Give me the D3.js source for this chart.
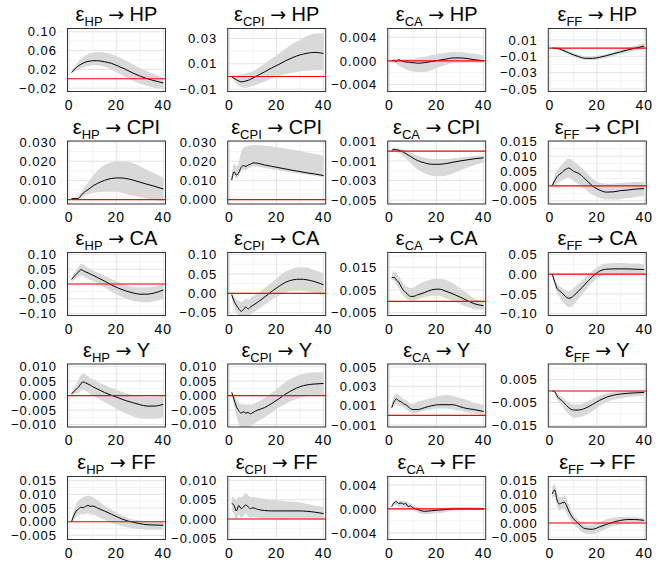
<!DOCTYPE html>
<html>
<head>
<meta charset="utf-8">
<script src="https://cdn.jsdelivr.net/npm/d3@7"></script>
<style>
  body { margin: 0; background: #fff; }
  svg { display: block; }
</style>
</head>
<body>
<div id="chart"></div>
<script>
// Impulse responses: shock (column) -> response (row), horizons 1..40
const horizons = [1, 2, 3, 4, 5, 6, 7, 8, 9, 10, 12, 15, 18, 21, 24, 27, 30, 33, 36, 40];
const shocks = ['HP', 'CPI', 'CA', 'FF'];
const responses = ['HP', 'CPI', 'CA', 'Y', 'FF'];

// response HP
const hpHP = {
    mid: [0.0138, 0.0187, 0.0236, 0.0279, 0.0307, 0.0335, 0.0356, 0.037, 0.0378, 0.0385, 0.0385, 0.0363, 0.0328, 0.0265, 0.020, 0.0124, 0.006, 0.0004, -0.0039, -0.0088],
    lo:  [0.011, 0.014, 0.017, 0.020, 0.022, 0.024, 0.026, 0.027, 0.028, 0.029, 0.029, 0.026, 0.020, 0.012, 0.004, -0.004, -0.010, -0.015, -0.019, -0.021],
    hi:  [0.017, 0.024, 0.031, 0.037, 0.042, 0.046, 0.050, 0.053, 0.055, 0.056, 0.057, 0.056, 0.052, 0.046, 0.039, 0.031, 0.023, 0.016, 0.010, 0.003]
};
const cpiHP = {
    mid: [0.0000, -0.0015, -0.0025, -0.0035, -0.0042, -0.0040, -0.0035, -0.0030, -0.0022, -0.0012, 0.0008, 0.0037, 0.0068, 0.0095, 0.0125, 0.0150, 0.0170, 0.0183, 0.0190, 0.0182],
    lo:  [-0.0003, -0.0030, -0.0055, -0.0075, -0.0085, -0.0088, -0.0088, -0.0085, -0.0080, -0.0075, -0.0060, -0.0040, -0.0015, 0.0005, 0.0020, 0.0030, 0.0040, 0.0045, 0.0050, 0.0050],
    hi:  [0.0003, 0.0008, 0.0008, 0.0010, 0.0013, 0.0018, 0.0024, 0.0029, 0.0034, 0.0042, 0.0063, 0.0102, 0.0141, 0.0180, 0.0220, 0.0259, 0.0290, 0.0319, 0.0337, 0.0342]
};
const caHP = {
    mid: [0.0000, 0.0001, -0.0001, 0.0002, 0.0000, -0.0001, -0.0002, -0.0002, -0.0003, -0.0003, -0.0004, -0.0003, -0.0001, 0.0001, 0.0003, 0.0005, 0.0005, 0.0004, 0.0002, 0.0000],
    lo:  [-0.0001, -0.0003, -0.0005, -0.0008, -0.0010, -0.0012, -0.0014, -0.0016, -0.0017, -0.0018, -0.0019, -0.0019, -0.0016, -0.0011, -0.0007, -0.0004, -0.0003, -0.0003, -0.0003, -0.0004],
    hi:  [0.0001, 0.0003, 0.0003, 0.0004, 0.0003, 0.0003, 0.0003, 0.0003, 0.0003, 0.0003, 0.0005, 0.0007, 0.0010, 0.0012, 0.0014, 0.0015, 0.0015, 0.0014, 0.0012, 0.0009]
};
const ffHP = {
    mid: [0.0000, -0.0001, -0.0003, -0.0010, -0.0020, -0.0032, -0.0045, -0.0058, -0.0070, -0.0082, -0.0102, -0.0124, -0.0125, -0.0112, -0.0092, -0.0068, -0.0045, -0.0022, -0.0002, 0.0025],
    lo:  [-0.0002, -0.0008, -0.0015, -0.0025, -0.0038, -0.0052, -0.0066, -0.0080, -0.0092, -0.0104, -0.0125, -0.0146, -0.0147, -0.0135, -0.0117, -0.0095, -0.0075, -0.0052, -0.0032, -0.0005],
    hi:  [0.0002, 0.0005, 0.0008, 0.0005, -0.0003, -0.0012, -0.0024, -0.0036, -0.0047, -0.0058, -0.0078, -0.0098, -0.0100, -0.0088, -0.0068, -0.0043, -0.0018, 0.0008, 0.0030, 0.0062]
};

// response CPI
const hpCPI = {
    mid: [0.0005, 0.0005, 0.0005, 0.0006, 0.0020, 0.0034, 0.0043, 0.0052, 0.0061, 0.0070, 0.0084, 0.0100, 0.0110, 0.0113, 0.0110, 0.0102, 0.0091, 0.0080, 0.0070, 0.0055],
    lo:  [-0.0002, -0.0002, -0.0002, 0.0005, 0.0010, 0.0016, 0.0022, 0.0027, 0.0031, 0.0034, 0.0038, 0.0041, 0.0041, 0.0040, 0.0030, 0.0021, 0.0013, 0.0005, -0.0002, -0.0010],
    hi:  [0.0009, 0.0010, 0.0012, 0.0020, 0.0037, 0.0055, 0.0072, 0.0088, 0.0106, 0.0123, 0.0150, 0.0180, 0.0195, 0.0200, 0.0198, 0.0190, 0.0173, 0.0155, 0.0138, 0.0114]
};
const cpiCPI = {
    mid: [0.0102, 0.0145, 0.0127, 0.0141, 0.0168, 0.0177, 0.0173, 0.0180, 0.0184, 0.0191, 0.0189, 0.0180, 0.0173, 0.0166, 0.0159, 0.0152, 0.0146, 0.0139, 0.0134, 0.0125],
    lo:  [0.0090, 0.0125, 0.0110, 0.0122, 0.0148, 0.0158, 0.0155, 0.0162, 0.0166, 0.0172, 0.0171, 0.0164, 0.0158, 0.0152, 0.0146, 0.0140, 0.0135, 0.0129, 0.0124, 0.0116],
    hi:  [0.0123, 0.0186, 0.0173, 0.0195, 0.0248, 0.0270, 0.0275, 0.0280, 0.0281, 0.0284, 0.0284, 0.0280, 0.0277, 0.0271, 0.0266, 0.0259, 0.0254, 0.0245, 0.0238, 0.0227]
};
const caCPI = {
    mid: [0.00005, 0.0002, 0.00016, 0.0001, 0.0000, -0.0001, -0.00025, -0.0004, -0.00055, -0.0007, -0.00096, -0.0012, -0.00134, -0.00134, -0.00127, -0.00113, -0.0010, -0.00089, -0.00078, -0.00068],
    lo:  [-0.00005, 0.00002, -0.00005, -0.00019, -0.00033, -0.00054, -0.00075, -0.00099, -0.0012, -0.00144, -0.00186, -0.00228, -0.0025, -0.00256, -0.0025, -0.00228, -0.00197, -0.00169, -0.00144, -0.00117],
    hi:  [0.00016, 0.0003, 0.0003, 0.00027, 0.00023, 0.00016, 0.00005, -0.00005, -0.00015, -0.00026, -0.00047, -0.00068, -0.0008, -0.0008, -0.0008, -0.00073, -0.00064, -0.00057, -0.0005, -0.00047]
};
const ffCPI = {
    mid: [0.0002, 0.0017, 0.0031, 0.0038, 0.0044, 0.0052, 0.0057, 0.0060, 0.0055, 0.0049, 0.0043, 0.0023, 0.0000, -0.0014, -0.0021, -0.0020, -0.0016, -0.0014, -0.0011, -0.0009],
    lo:  [-0.0002, 0.0000, 0.0009, 0.0014, 0.0018, 0.0023, 0.0026, 0.0028, 0.0023, 0.0017, 0.0006, -0.0011, -0.0029, -0.0040, -0.0046, -0.0046, -0.0044, -0.0041, -0.0038, -0.0034],
    hi:  [0.0009, 0.0034, 0.0052, 0.0063, 0.0071, 0.0080, 0.0089, 0.0092, 0.0090, 0.0083, 0.0071, 0.0048, 0.0025, 0.0011, 0.0007, 0.0008, 0.0010, 0.0011, 0.0013, 0.0012]
};

// response CA
const hpCA = {
    mid: [0.0156, 0.0246, 0.0335, 0.041, 0.049, 0.045, 0.041, 0.038, 0.0335, 0.030, 0.022, 0.010, -0.0034, -0.0145, -0.0235, -0.030, -0.0346, -0.0346, -0.031, -0.020],
    lo:  [0.0078, 0.013, 0.019, 0.0246, 0.030, 0.026, 0.022, 0.018, 0.0134, 0.010, 0.0022, -0.011, -0.0257, -0.039, -0.049, -0.057, -0.0615, -0.0626, -0.059, -0.051],
    hi:  [0.022, 0.034, 0.047, 0.058, 0.069, 0.067, 0.060, 0.055, 0.050, 0.047, 0.039, 0.028, 0.0168, 0.0056, -0.0034, -0.009, -0.012, -0.012, -0.009, 0.000]
};
const cpiCA = {
    mid: [-0.0034, -0.020, -0.031, -0.040, -0.046, -0.0415, -0.035, -0.040, -0.035, -0.031, -0.023, -0.0093, 0.005, 0.0178, 0.0288, 0.0347, 0.0364, 0.0347, 0.0305, 0.022],
    lo:  [-0.0076, -0.035, -0.048, -0.060, -0.066, -0.066, -0.063, -0.062, -0.054, -0.050, -0.0415, -0.029, -0.016, -0.006, 0.0025, 0.0068, 0.0068, 0.005, 0.0008, -0.006],
    hi:  [0.000, -0.0093, -0.016, -0.020, -0.023, -0.020, -0.014, -0.016, -0.012, -0.0076, -0.0008, 0.0136, 0.028, 0.043, 0.056, 0.064, 0.067, 0.066, 0.060, 0.0517]
};
const caCA = {
    mid: [0.0104, 0.0106, 0.0094, 0.0084, 0.0065, 0.0048, 0.0039, 0.0029, 0.0022, 0.0022, 0.0029, 0.0039, 0.0051, 0.0054, 0.0045, 0.0033, 0.0019, 0.0004, -0.0010, -0.0019],
    lo:  [0.0094, 0.0091, 0.0072, 0.0058, 0.0039, 0.0025, 0.0014, 0.0007, 0.0004, 0.0004, 0.0010, 0.0019, 0.0025, 0.0025, 0.0014, 0.0003, -0.0010, -0.0025, -0.0033, -0.0036],
    hi:  [0.0120, 0.0133, 0.0126, 0.0109, 0.0094, 0.0080, 0.0068, 0.0062, 0.0058, 0.0060, 0.0072, 0.0087, 0.0097, 0.0100, 0.0094, 0.0080, 0.0058, 0.0036, 0.0014, 0.0000]
};
const ffCA = {
    mid: [0.000, -0.019, -0.036, -0.042, -0.047, -0.053, -0.059, -0.061, -0.060, -0.055, -0.044, -0.025, -0.0067, 0.0075, 0.0126, 0.0134, 0.0134, 0.0134, 0.0126, 0.0117],
    lo:  [-0.0017, -0.0277, -0.0486, -0.057, -0.065, -0.074, -0.080, -0.084, -0.084, -0.078, -0.064, -0.042, -0.022, -0.0067, -0.0008, 0.000, 0.000, -0.0008, -0.0008, -0.0025],
    hi:  [0.0017, -0.011, -0.0235, -0.030, -0.034, -0.0385, -0.042, -0.043, -0.040, -0.036, -0.025, -0.0084, 0.0084, 0.021, 0.027, 0.0285, 0.0285, 0.028, 0.027, 0.025]
};

// response Y
const hpY = {
    mid: [0.0007, 0.0014, 0.0022, 0.0029, 0.0042, 0.0047, 0.0044, 0.0040, 0.0036, 0.0031, 0.0023, 0.0011, 0.0001, -0.0008, -0.0017, -0.0024, -0.0031, -0.0036, -0.0036, -0.0030],
    lo:  [0.0001, 0.0003, 0.0007, 0.0009, 0.0018, 0.0020, 0.0017, 0.0011, 0.0006, 0.0001, -0.0008, -0.0022, -0.0036, -0.0050, -0.0061, -0.0071, -0.0078, -0.0080, -0.0080, -0.0074],
    hi:  [0.0011, 0.0026, 0.0040, 0.0056, 0.0070, 0.0076, 0.0072, 0.0067, 0.0061, 0.0057, 0.0048, 0.0037, 0.0026, 0.0017, 0.0009, 0.0002, -0.0002, -0.0004, -0.0004, 0.0000]
};
const cpiY = {
    mid: [0.0011, -0.0013, -0.0038, -0.0052, -0.0060, -0.0056, -0.0060, -0.0058, -0.0063, -0.0058, -0.0050, -0.0041, -0.0027, -0.0011, 0.0006, 0.0020, 0.0031, 0.0037, 0.0040, 0.0042],
    lo:  [0.0003, -0.0033, -0.0069, -0.0097, -0.0113, -0.0111, -0.0111, -0.0108, -0.0104, -0.0100, -0.0089, -0.0074, -0.0058, -0.0041, -0.0027, -0.0016, -0.0008, -0.0002, 0.0000, 0.0001],
    hi:  [0.0018, 0.0003, -0.0013, -0.0024, -0.0030, -0.0030, -0.0031, -0.0030, -0.0031, -0.0029, -0.0022, -0.0008, 0.0009, 0.0029, 0.0048, 0.0062, 0.0072, 0.0078, 0.0081, 0.0081]
};
const caY = {
    mid: [0.0008, 0.0014, 0.0017, 0.0015, 0.0014, 0.0012, 0.0011, 0.0009, 0.0007, 0.0006, 0.0006, 0.0008, 0.0010, 0.0011, 0.0011, 0.0011, 0.0009, 0.0007, 0.0006, 0.0004],
    lo:  [0.0006, 0.0010, 0.0012, 0.0010, 0.0009, 0.0008, 0.0006, 0.0005, 0.0003, 0.0002, 0.0003, 0.0005, 0.0006, 0.0007, 0.0007, 0.0006, 0.0005, 0.0003, 0.0002, 0.0001],
    hi:  [0.0013, 0.0020, 0.0022, 0.0021, 0.0019, 0.0017, 0.0016, 0.0014, 0.0012, 0.0012, 0.0014, 0.0016, 0.0018, 0.0020, 0.0021, 0.0020, 0.0018, 0.0016, 0.0013, 0.0011]
};
const ffY = {
    mid: [0.0000, -0.0003, -0.0021, -0.0034, -0.0041, -0.0052, -0.0063, -0.0073, -0.0080, -0.0083, -0.0083, -0.0075, -0.0059, -0.0041, -0.0027, -0.0018, -0.0013, -0.0010, -0.0008, -0.0006],
    lo:  [0.0000, -0.0010, -0.0035, -0.0052, -0.0063, -0.0077, -0.0092, -0.0101, -0.0111, -0.0117, -0.0115, -0.0106, -0.0087, -0.0066, -0.0049, -0.0038, -0.0031, -0.0027, -0.0024, -0.0021],
    hi:  [0.0000, -0.0001, -0.0010, -0.0020, -0.0027, -0.0034, -0.0042, -0.0049, -0.0055, -0.0059, -0.0059, -0.0049, -0.0035, -0.0021, -0.0010, -0.0004, -0.0001, 0.0000, 0.0000, 0.0001]
};

// response FF
const hpFF = {
    mid: [0.0000, 0.0023, 0.0039, 0.0047, 0.0053, 0.0051, 0.0056, 0.0059, 0.0056, 0.0057, 0.0050, 0.0039, 0.0027, 0.0015, 0.0005, -0.0002, -0.0007, -0.0011, -0.0012, -0.0013],
    lo:  [-0.0007, 0.0005, 0.0017, 0.0023, 0.0029, 0.0027, 0.0029, 0.0032, 0.0027, 0.0027, 0.0019, 0.0007, -0.0005, -0.0013, -0.0019, -0.0024, -0.0027, -0.0029, -0.0029, -0.0029],
    hi:  [0.0005, 0.0041, 0.0065, 0.0078, 0.0084, 0.0090, 0.0093, 0.0096, 0.0093, 0.0090, 0.0078, 0.0059, 0.0044, 0.0029, 0.0017, 0.0008, 0.0005, 0.0001, 0.0000, 0.0000]
};
const cpiFF = {
    mid: [0.0041, 0.0035, 0.0021, 0.0035, 0.0027, 0.0031, 0.0037, 0.0031, 0.0027, 0.0029, 0.0025, 0.0022, 0.0021, 0.0021, 0.0021, 0.0021, 0.0021, 0.0020, 0.0018, 0.0014],
    lo:  [0.0022, 0.0012, -0.0003, 0.0012, 0.0003, 0.0009, 0.0015, 0.0007, 0.0003, 0.0005, 0.0003, 0.0001, 0.0000, -0.0002, -0.0002, -0.0001, -0.0001, -0.0002, -0.0002, -0.0003],
    hi:  [0.0057, 0.0055, 0.0050, 0.0058, 0.0057, 0.0061, 0.0067, 0.0061, 0.0057, 0.0057, 0.0055, 0.0052, 0.0050, 0.0048, 0.0046, 0.0045, 0.0042, 0.0039, 0.0035, 0.0031]
};
const caFF = {
    mid: [0.0004, 0.0010, 0.0012, 0.0009, 0.0010, 0.0008, 0.0009, 0.0004, 0.0005, 0.0002, -0.0001, -0.0004, -0.0003, -0.0002, -0.0001, 0.0000, 0.0000, 0.0000, 0.0000, 0.0000],
    lo:  [0.0002, 0.0006, 0.0006, 0.0003, 0.0004, 0.0002, 0.0003, 0.0000, 0.0001, -0.0002, -0.0006, -0.0009, -0.0008, -0.0007, -0.0005, -0.0003, -0.0002, -0.0002, -0.0002, -0.0002],
    hi:  [0.0007, 0.0014, 0.0015, 0.0013, 0.0014, 0.0013, 0.0013, 0.0010, 0.0009, 0.0006, 0.0003, 0.0001, 0.0001, 0.0002, 0.0002, 0.0003, 0.0003, 0.0003, 0.0003, 0.0002]
};
const ffFF = {
    mid: [0.0102, 0.0116, 0.0081, 0.0067, 0.0070, 0.0073, 0.0062, 0.0042, 0.0027, 0.0015, -0.0002, -0.0020, -0.0022, -0.0014, -0.0005, 0.0003, 0.0009, 0.0012, 0.0012, 0.0009],
    lo:  [0.0085, 0.0093, 0.0058, 0.0044, 0.0047, 0.0050, 0.0035, 0.0019, 0.0003, -0.0005, -0.0020, -0.0037, -0.0040, -0.0031, -0.0020, -0.0010, -0.0005, -0.0002, -0.0002, -0.0002],
    hi:  [0.0126, 0.0137, 0.0108, 0.0091, 0.0091, 0.0097, 0.0085, 0.0062, 0.0044, 0.0030, 0.0012, -0.0005, -0.0006, 0.0003, 0.0013, 0.0019, 0.0021, 0.0021, 0.0020, 0.0017]
};

// y-axis tick labels per panel (rows = responses, cols = shocks)
const yTicks = [
    [[-0.02, 0.02, 0.06, 0.10], [-0.01, 0.01, 0.03], [-0.004, 0, 0.004], [-0.05, -0.03, -0.01, 0.01]],
    [[0, 0.01, 0.02, 0.03], [0, 0.01, 0.02, 0.03], [-0.005, -0.003, -0.001, 0.001], [-0.005, 0, 0.005, 0.01, 0.015]],
    [[-0.1, -0.05, 0, 0.05, 0.1], [-0.05, 0, 0.05, 0.1], [-0.005, 0.005, 0.015], [-0.1, -0.05, 0, 0.05]],
    [[-0.01, -0.005, 0, 0.005, 0.01], [-0.01, -0.005, 0, 0.005, 0.01], [-0.001, 0.001, 0.003, 0.005], [-0.015, -0.005, 0.005]],
    [[-0.005, 0, 0.005, 0.01, 0.015], [-0.005, 0, 0.005, 0.01], [-0.004, 0, 0.004], [-0.005, 0, 0.005, 0.01, 0.015]]
];
const yDigits = [[2, 2, 3, 2], [3, 3, 3, 3], [2, 2, 3, 2], [3, 3, 3, 3], [3, 3, 3, 3]];
const yLimits = [
    [[-0.027, 0.107], [-0.0118, 0.0378], [-0.0052, 0.0055], [-0.053, 0.024]],
    [[-0.0023, 0.0305], [-0.0023, 0.0305], [-0.0054, 0.00104], [-0.0061, 0.0151]],
    [[-0.107, 0.107], [-0.057, 0.105], [-0.0062, 0.0215], [-0.105, 0.055]],
    [[-0.0108, 0.0109], [-0.0108, 0.0109], [-0.0012, 0.0053], [-0.0157, 0.0118]],
    [[-0.0065, 0.0165], [-0.0053, 0.011], [-0.0051, 0.0054], [-0.0058, 0.0163]]
];
const xTicks = [0, 20, 40];
const xMinor = [10, 30];
const xLimits = [-0.7, 40.9];

const irfGrid = [
    [hpHP, cpiHP, caHP, ffHP],
    [hpCPI, cpiCPI, caCPI, ffCPI],
    [hpCA, cpiCA, caCA, ffCA],
    [hpY, cpiY, caY, ffY],
    [hpFF, cpiFF, caFF, ffFF]
];

// Layout
const width = 667, height = 565;
const panelW = 98, panelH = 63;
const colX = [67.5, 227.7, 387.7, 548.3];
const rowY = [28.5, 141, 252.5, 364, 476.5];

const svg = d3.select('#chart')
    .append('svg')
    .attr('width', width)
    .attr('height', height)
    .style('font-family', '"Liberation Sans", Arial, Helvetica, sans-serif');

responses.forEach((resp, r) => {
    shocks.forEach((shock, c) => {
        const irf = irfGrid[r][c];
        const x = d3.scaleLinear().domain(xLimits).range([0, panelW]);
        const y = d3.scaleLinear().domain(yLimits[r][c]).range([panelH, 0]);
        const ticks = yTicks[r][c];
        const step = ticks[1] - ticks[0];

        const g = svg.append('g')
            .attr('transform', `translate(${colX[c]},${rowY[r]})`);

        const clipId = `clip-${r}-${c}`;
        g.append('clipPath').attr('id', clipId)
            .append('rect').attr('width', panelW).attr('height', panelH);

        // minor grid (half steps)
        const yMinor = [];
        for (let i = -1; i < ticks.length; i++) {
            const v = ticks[0] + (i + 0.5) * step;
            if (v > yLimits[r][c][0] && v < yLimits[r][c][1]) yMinor.push(v);
        }
        const grid = g.append('g').attr('clip-path', `url(#${clipId})`);
        grid.selectAll('.ymin').data(yMinor).join('line')
            .attr('x1', 0).attr('x2', panelW)
            .attr('y1', d => y(d)).attr('y2', d => y(d))
            .attr('stroke', '#f3f3f3').attr('stroke-width', 1);
        grid.selectAll('.xmin').data(xMinor).join('line')
            .attr('x1', d => x(d)).attr('x2', d => x(d))
            .attr('y1', 0).attr('y2', panelH)
            .attr('stroke', '#f3f3f3').attr('stroke-width', 1);
        grid.selectAll('.ymaj').data(ticks).join('line')
            .attr('x1', 0).attr('x2', panelW)
            .attr('y1', d => y(d)).attr('y2', d => y(d))
            .attr('stroke', '#e4e4e4').attr('stroke-width', 1);
        grid.selectAll('.xmaj').data(xTicks).join('line')
            .attr('x1', d => x(d)).attr('x2', d => x(d))
            .attr('y1', 0).attr('y2', panelH)
            .attr('stroke', '#e4e4e4').attr('stroke-width', 1);

        const pts = horizons.map((h, i) => ({ h, mid: irf.mid[i], lo: irf.lo[i], hi: irf.hi[i] }));

        const plot = g.append('g').attr('clip-path', `url(#${clipId})`);

        // confidence band
        plot.append('path')
            .datum(pts)
            .attr('fill', '#d9d9d9')
            .attr('d', d3.area()
                .curve(d3.curveMonotoneX)
                .x(d => x(d.h))
                .y0(d => y(d.lo))
                .y1(d => y(d.hi)));

        // point estimate
        plot.append('path')
            .datum(pts)
            .attr('fill', 'none')
            .attr('stroke', '#000')
            .attr('stroke-width', 1)
            .attr('d', d3.line()
                .curve(d3.curveMonotoneX)
                .x(d => x(d.h))
                .y(d => y(d.mid)));

        // zero line
        plot.append('line')
            .attr('x1', 0).attr('x2', panelW)
            .attr('y1', y(0)).attr('y2', y(0))
            .attr('stroke', '#ff0000')
            .attr('stroke-width', 1.1);

        // panel border
        g.append('rect')
            .attr('width', panelW).attr('height', panelH)
            .attr('fill', 'none')
            .attr('stroke', '#333')
            .attr('stroke-width', 1);

        // y tick labels
        const fmt = d3.format(`.${yDigits[r][c]}f`);
        g.selectAll('.ylab').data(ticks).join('text')
            .attr('x', -10.5)
            .attr('y', d => y(d))
            .attr('dy', '0.36em')
            .attr('text-anchor', 'end')
            .attr('font-size', 13)
            .attr('letter-spacing', 1)
            .attr('fill', '#000')
            .text(d => fmt(d));

        // x tick labels
        g.selectAll('.xlab').data(xTicks).join('text')
            .attr('x', d => x(d))
            .attr('y', panelH + 18)
            .attr('text-anchor', 'middle')
            .attr('font-size', 14)
            .attr('letter-spacing', 1)
            .attr('fill', '#000')
            .text(d => d);

        // title: epsilon_shock -> response
        const title = g.append('text')
            .attr('x', panelW / 2)
            .attr('y', -7.5)
            .attr('text-anchor', 'middle')
            .attr('font-size', 20)
            .attr('fill', '#000');
        title.append('tspan').text('\u03B5');
        title.append('tspan').attr('font-size', 13).attr('dy', 5).text(shock);
        title.append('tspan').attr('dy', -5).text(' ');
        title.append('tspan').attr('font-family', '"DejaVu Sans"').attr('font-size', 19).text('\u2192');
        title.append('tspan').text(' ' + resp);
    });
});
</script>
</body>
</html>
